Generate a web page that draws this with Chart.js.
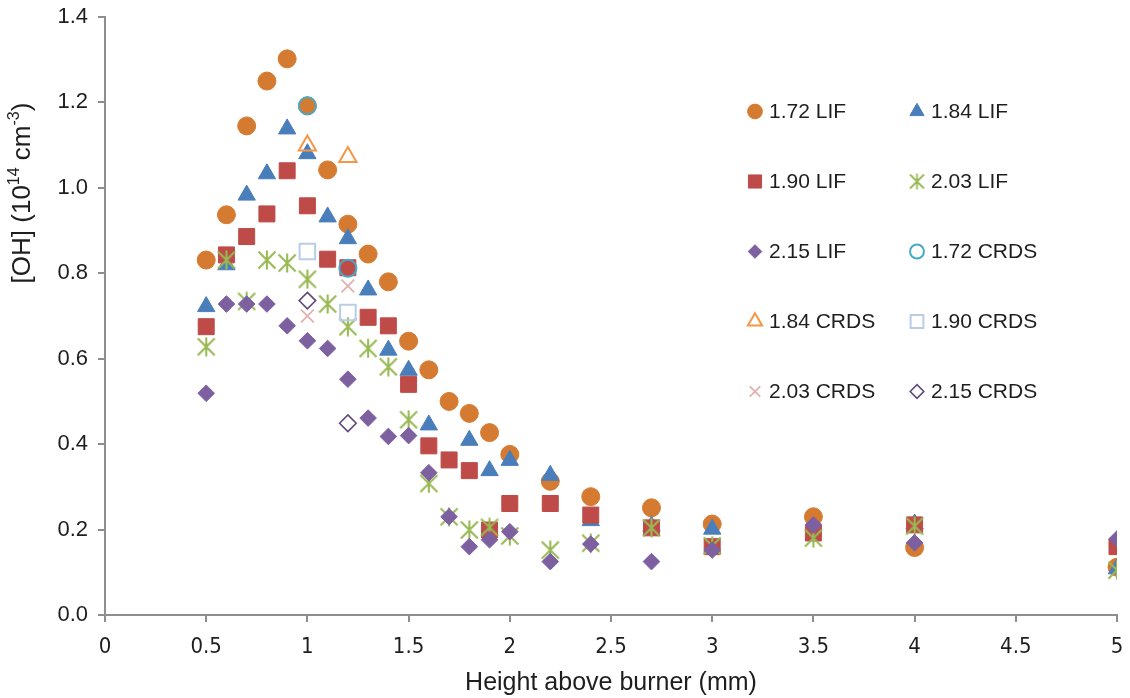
<!DOCTYPE html>
<html>
<head>
<meta charset="utf-8">
<title>[OH] profiles</title>
<script src="https://cdn.jsdelivr.net/npm/chart.js@4.4.1/dist/chart.umd.min.js"></script>
<style>
  html, body { margin: 0; padding: 0; background: #ffffff; }
  #wrap { width: 1130px; height: 698px; position: relative; }
</style>
</head>
<body>
<div id="wrap"><canvas id="chart" width="1130" height="698"></canvas></div>
<script>
// Heights above the burner (mm) at which each method sampled [OH]
const heightsLIF = [0.5, 0.6, 0.7, 0.8, 0.9, 1.0, 1.1, 1.2, 1.3, 1.4, 1.5, 1.6, 1.7, 1.8, 1.9, 2.0, 2.2, 2.4, 2.7, 3.0, 3.5, 4.0, 5.0];
const heightsCRDS = [1.0, 1.2];

// [OH] in units of 1e14 cm^-3, one list per equivalence ratio
const ohLIF172 = [0.831, 0.937, 1.145, 1.250, 1.302, 1.192, 1.042, 0.915, 0.845, 0.780, 0.641, 0.574, 0.500, 0.472, 0.427, 0.376, 0.313, 0.277, 0.251, 0.213, 0.230, 0.158, 0.112];
const ohLIF184 = [0.722, 0.820, 0.983, 1.033, 1.138, 1.080, 0.932, 0.881, 0.761, 0.620, 0.573, 0.445, null, 0.409, 0.338, 0.362, 0.327, 0.221, 0.208, 0.201, null, 0.213, 0.108];
const ohLIF190 = [0.675, 0.843, 0.886, 0.939, 1.040, 0.958, 0.833, 0.813, 0.697, 0.677, 0.540, 0.396, 0.363, 0.338, 0.199, 0.261, 0.261, 0.234, 0.204, 0.160, 0.192, 0.211, 0.160];
const ohLIF203 = [0.628, 0.831, 0.734, 0.831, 0.824, 0.786, 0.728, 0.675, 0.624, 0.581, 0.457, 0.308, 0.230, 0.199, 0.205, 0.185, 0.152, 0.168, 0.204, 0.162, 0.180, 0.208, 0.105];
const ohLIF215 = [0.519, 0.728, 0.728, 0.728, 0.677, 0.642, 0.624, 0.552, 0.461, 0.418, 0.420, 0.333, 0.230, 0.160, 0.176, 0.195, 0.125, 0.166, 0.125, 0.152, 0.211, 0.169, 0.178];

const ohCRDS172 = [1.192, 0.812];
const ohCRDS184 = [1.099, 1.072];
const ohCRDS190 = [0.851, 0.708];
const ohCRDS203 = [0.700, 0.770];
const ohCRDS215 = [0.736, 0.449];

const seriesLabels = ['1.72 LIF', '1.84 LIF', '1.90 LIF', '2.03 LIF', '2.15 LIF',
                      '1.72 CRDS', '1.84 CRDS', '1.90 CRDS', '2.03 CRDS', '2.15 CRDS'];

const FONT = "'Liberation Sans', Arial, sans-serif";
const NARROW = "'Liberation Sans Narrow', 'DejaVu Sans Condensed', 'Liberation Sans', sans-serif";
const TEXT = '#1e1e1e';
const AXIS = '#8e8e8e';

// Six-spoke asterisk marker (an X with a vertical bar)
function makeAsterisk(size, color, lw) {
  const c = document.createElement('canvas');
  c.width = size; c.height = size;
  const g = c.getContext('2d');
  g.strokeStyle = color;
  g.lineWidth = lw;
  g.lineCap = 'butt';
  const m = size / 2, d = size / 2 - 1.5;
  g.beginPath();
  g.moveTo(m - d, m - d); g.lineTo(m + d, m + d);
  g.moveTo(m + d, m - d); g.lineTo(m - d, m + d);
  g.moveTo(m, m - d - 1); g.lineTo(m, m + d + 1);
  g.stroke();
  return c;
}

const asteriskBig = makeAsterisk(20, '#98b954', 2.1);
const asteriskSmall = makeAsterisk(17, '#98b954', 1.8);

function pts(xs, ys) {
  const out = [];
  xs.forEach((x, i) => { if (ys[i] !== null) out.push({ x: x, y: ys[i] }); });
  return out;
}

const styles = [
  { style: 'circle',   r: 9,    fill: '#d57b31', stroke: '#d57b31', lw: 1 },
  { style: 'triangle', r: 10,   fill: '#4a7ebb', stroke: '#4a7ebb', lw: 1 },
  { style: 'rect',     r: 11.3, fill: '#be4b48', stroke: '#be4b48', lw: 1 },
  { style: asteriskBig, legend: asteriskSmall, r: 10, fill: '#98b954', stroke: '#98b954', lw: 0 },
  { style: 'rectRot',  r: 8.3,  fill: '#7d60a0', stroke: '#7d60a0', lw: 1 },
  { style: 'circle',   r: 8.5,  fill: 'rgba(0,0,0,0)', stroke: '#46aac5', lw: 2 },
  { style: 'triangle', r: 10,   fill: 'rgba(0,0,0,0)', stroke: '#f79646', lw: 2 },
  { style: 'rect',     r: 11,   fill: 'rgba(0,0,0,0)', stroke: '#b9cde5', lw: 2 },
  { style: 'crossRot', r: 9,    fill: 'rgba(0,0,0,0)', stroke: '#e3b1b0', lw: 1.8 },
  { style: 'rectRot',  r: 8.3,  fill: 'rgba(0,0,0,0)', stroke: '#5f497a', lw: 1.6 }
];

const seriesData = [
  pts(heightsLIF, ohLIF172), pts(heightsLIF, ohLIF184), pts(heightsLIF, ohLIF190),
  pts(heightsLIF, ohLIF203), pts(heightsLIF, ohLIF215),
  pts(heightsCRDS, ohCRDS172), pts(heightsCRDS, ohCRDS184), pts(heightsCRDS, ohCRDS190),
  pts(heightsCRDS, ohCRDS203), pts(heightsCRDS, ohCRDS215)
];

const datasets = seriesData.map((d, i) => ({
  label: seriesLabels[i],
  data: d,
  showLine: false,
  order: 20 - i, // later series sit on top
  pointStyle: styles[i].style,
  pointRadius: styles[i].r,
  pointHoverRadius: styles[i].r,
  pointBackgroundColor: styles[i].fill,
  pointBorderColor: styles[i].stroke,
  pointBorderWidth: styles[i].lw
}));

// Marker painter for the in-plot legend
function drawMarker(ctx, s, x, y, scale) {
  const r = s.r * scale;
  ctx.save();
  ctx.fillStyle = s.fill;
  ctx.strokeStyle = s.stroke;
  ctx.lineWidth = s.lw;
  if (typeof s.style !== 'string') {
    const img = s.legend || s.style;
    ctx.drawImage(img, x - img.width / 2, y - img.height / 2);
    ctx.restore();
    return;
  }
  ctx.beginPath();
  if (s.style === 'circle') {
    ctx.arc(x, y, r, 0, Math.PI * 2);
  } else if (s.style === 'triangle') {
    ctx.moveTo(x, y - r);
    ctx.lineTo(x + r * Math.sin(Math.PI * 2 / 3), y - r * Math.cos(Math.PI * 2 / 3));
    ctx.lineTo(x + r * Math.sin(Math.PI * 4 / 3), y - r * Math.cos(Math.PI * 4 / 3));
    ctx.closePath();
  } else if (s.style === 'rect') {
    const h = Math.SQRT1_2 * r;
    ctx.rect(x - h, y - h, 2 * h, 2 * h);
  } else if (s.style === 'rectRot') {
    ctx.moveTo(x - r, y); ctx.lineTo(x, y - r); ctx.lineTo(x + r, y); ctx.lineTo(x, y + r);
    ctx.closePath();
  } else if (s.style === 'crossRot') {
    const h = Math.SQRT1_2 * r;
    ctx.moveTo(x - h, y - h); ctx.lineTo(x + h, y + h);
    ctx.moveTo(x + h, y - h); ctx.lineTo(x - h, y + h);
  }
  if (s.style !== 'crossRot') ctx.fill();
  if (s.lw > 0) ctx.stroke();
  ctx.restore();
}

const legendGrid = {
  markerX: [755, 917],
  textX: [769, 931],
  rowY: [111.5, 181.5, 251.5, 321.5, 391.5]
};

const legendPlugin = {
  id: 'gridLegend',
  afterDraw(chart) {
    const ctx = chart.ctx;
    ctx.save();
    ctx.font = '21px ' + FONT;
    ctx.fillStyle = TEXT;
    ctx.textBaseline = 'middle';
    ctx.textAlign = 'left';
    chart.data.datasets.forEach((ds, i) => {
      const col = i % 2, row = Math.floor(i / 2);
      const y = legendGrid.rowY[row];
      drawMarker(ctx, styles[i], legendGrid.markerX[col], y, 0.82);
      ctx.fillStyle = TEXT;
      ctx.fillText(ds.label, legendGrid.textX[col], y + 1);
    });
    ctx.restore();
  }
};

// Rotated y-axis title with superscript exponents
const yTitlePlugin = {
  id: 'yTitle',
  afterDraw(chart) {
    const ctx = chart.ctx;
    const parts = [
      { t: '[OH] (10', sup: false },
      { t: '14', sup: true },
      { t: ' cm', sup: false },
      { t: '-3', sup: true },
      { t: ')', sup: false }
    ];
    const base = 26, small = 16;
    ctx.save();
    let total = 0;
    parts.forEach(p => {
      ctx.font = (p.sup ? small : base) + 'px ' + FONT;
      p.w = ctx.measureText(p.t).width;
      total += p.w;
    });
    ctx.translate(20, 193);
    ctx.rotate(-Math.PI / 2);
    ctx.fillStyle = TEXT;
    ctx.textBaseline = 'alphabetic';
    ctx.textAlign = 'left';
    let x = -total / 2;
    parts.forEach(p => {
      ctx.font = (p.sup ? small : base) + 'px ' + FONT;
      ctx.fillText(p.t, x, p.sup ? -1 : 9.5);
      x += p.w;
    });
    ctx.restore();
  }
};

new Chart(document.getElementById('chart'), {
  type: 'scatter',
  data: { datasets: datasets },
  options: {
    responsive: false,
    devicePixelRatio: 1,
    animation: false,
    events: [],
    layout: { padding: { top: 17, right: 13, left: 0, bottom: 0 } },
    plugins: { legend: { display: false }, tooltip: { enabled: false } },
    scales: {
      x: {
        type: 'linear',
        min: 0, max: 5,
        ticks: {
          stepSize: 0.5,
          color: TEXT,
          padding: 12,
          font: { family: NARROW, size: 22 },
          callback: v => String(Math.round(v * 10) / 10)
        },
        grid: { drawOnChartArea: false, drawTicks: true, tickLength: 7, color: AXIS, lineWidth: 2 },
        border: { display: true, color: AXIS, width: 2 },
        title: {
          display: true,
          text: 'Height above burner (mm)',
          color: TEXT,
          font: { family: FONT, size: 25 },
          padding: { top: 0, bottom: 0 }
        },
        afterFit(scale) {
          scale.height = 83;
          scale.paddingLeft = 0;
          scale.paddingRight = 0;
        }
      },
      y: {
        min: 0, max: 1.4,
        ticks: {
          stepSize: 0.2,
          color: TEXT,
          padding: 10,
          font: { family: FONT, size: 22 },
          callback: v => Number(v).toFixed(1)
        },
        grid: { drawOnChartArea: false, drawTicks: true, tickLength: 7, color: AXIS, lineWidth: 2 },
        border: { display: true, color: AXIS, width: 2 },
        afterFit(scale) {
          scale.width = 105;
          scale.paddingTop = 0;
          scale.paddingBottom = 0;
        }
      }
    }
  },
  plugins: [legendPlugin, yTitlePlugin]
});
</script>
</body>
</html>
